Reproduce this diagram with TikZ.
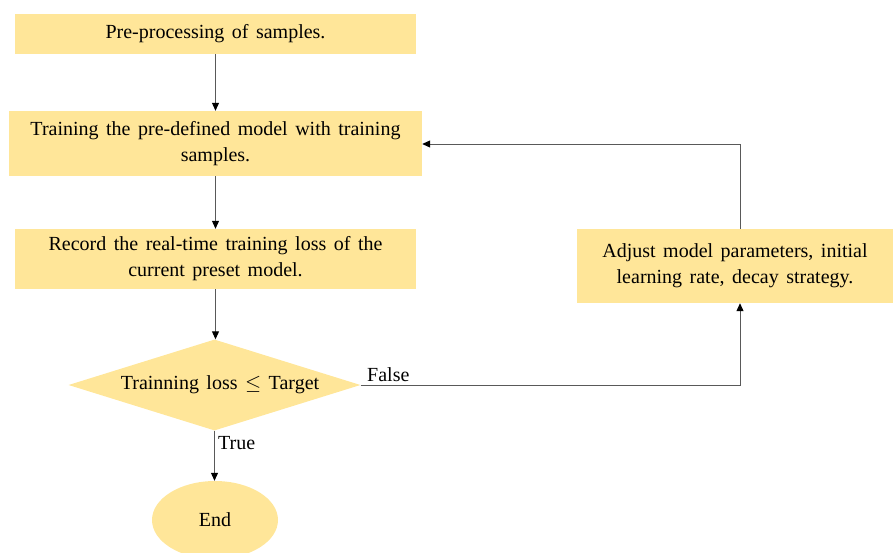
\documentclass[tikz,border=0pt]{standalone}
\usepackage{fontspec}
\setmainfont{Liberation Serif}
\usetikzlibrary{arrows.meta,shapes.geometric}
\definecolor{boxfill}{HTML}{FFE699}
\definecolor{linecol}{HTML}{595959}
\newcommand{\myboxfont}{\fontsize{20}{26}\selectfont\spaceskip=7.5pt plus 2pt minus 1pt\relax}
\begin{document}
\begin{tikzpicture}[x=1pt,y=-1pt,
  txt/.style={font=\myboxfont, text=black},
  procbox/.style={txt, fill=boxfill, draw=none, align=center, inner sep=0pt},
  decbox/.style={fill=boxfill, draw=none, diamond, aspect=3.2, inner sep=0pt},
  termbox/.style={txt, fill=boxfill, draw=none, ellipse, inner sep=0pt},
  conn/.style={draw=linecol, line width=1pt, -{Triangle[length=8pt,width=7pt,fill=black,color=black]}},
  lbl/.style={txt, inner sep=0pt}]
\useasboundingbox (0,0) rectangle (894,552);
\node[procbox, minimum width=401pt, minimum height=40pt] (pre) at (215.5,34) {Pre-processing of samples.};
\node[procbox, minimum width=413pt, minimum height=65pt] (train) at (215.5,143.5) {Training the pre-defined model with training\\samples.};
\node[procbox, minimum width=401pt, minimum height=60pt] (rec) at (215.5,259) {Record the real-time training loss of the\\current preset model.};
\node[decbox, minimum width=292pt, minimum height=91pt] (dec) at (214.5,385) {};
\node[txt] (dectext) at (220,385) {Trainning loss $\leq$ Target};
\node[termbox, minimum width=126pt, minimum height=78pt] (endn) at (215,520) {End};
\node[procbox, minimum width=316pt, minimum height=74pt] (adj) at (735,266) {Adjust model parameters, initial\\learning rate, decay strategy.};
\coordinate (tl) at (740,144);
\draw[conn] (pre.south) -- (pre.south |- train.north);
\draw[conn] (train.south) -- (train.south |- rec.north);
\draw[conn] (rec.south) -- (rec.south |- dec.north);
\draw[conn] (dec.south) -- (dec.south |- endn.north);
\draw[conn] (tl |- adj.north) -- (tl) -- (tl -| train.east);
\draw[conn] (dec.east) -- (dec.east -| tl) -- (tl |- adj.south);
\node[lbl, anchor=south west] (flbl) at (367,382) {False};
\node[lbl, anchor=west] (tlbl) at (218,443) {True};
\end{tikzpicture}
\end{document}
